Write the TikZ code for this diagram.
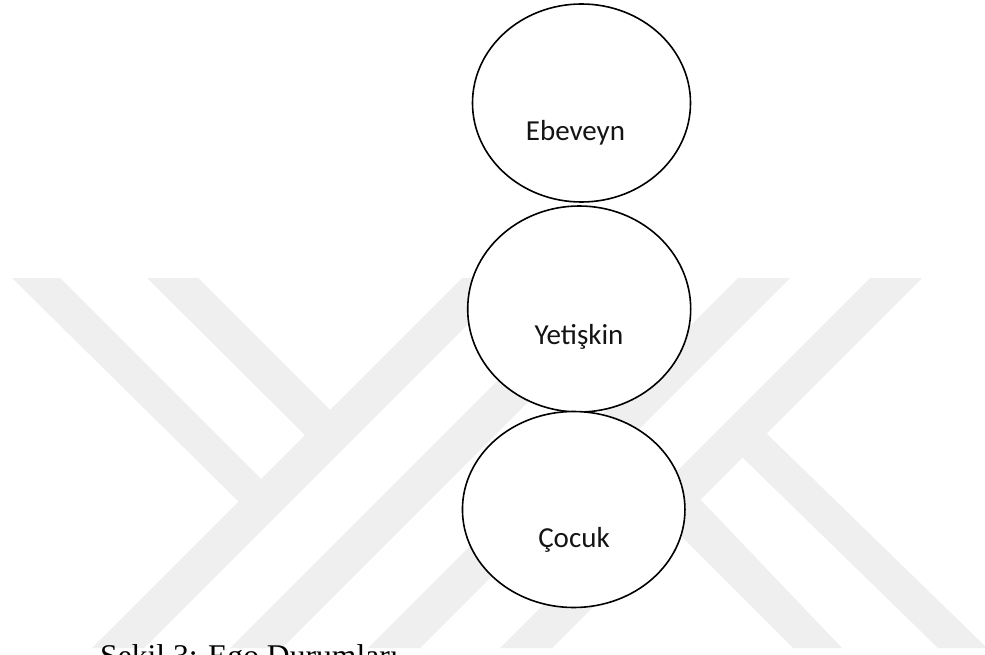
\documentclass[tikz,border=0pt]{standalone}
\usepackage{fontspec}
\setmainfont{Carlito}
\newfontfamily\capfont{Liberation Serif}
\usetikzlibrary{shapes.geometric}
\definecolor{wmgray}{HTML}{EFEFEF}
\tikzset{
  x=1pt,y=-1pt,
  band/.style={fill=wmgray,draw=none},
  bubble/.style={ellipse,draw=black,fill=white,line width=1.6pt,inner sep=0pt,outer sep=0pt},
  lbl/.style={anchor=base,inner sep=0pt,text=black!92,font=\fontsize{29}{32}\selectfont},
  captext/.style={anchor=base west,inner sep=0pt,text=black,font=\capfont\fontsize{31.6}{34}\selectfont}
}
\begin{document}
\begin{tikzpicture}
\useasboundingbox (0,0) rectangle (985,655);
\clip (0,0) rectangle (985,655);
\fill[white] (0,0) rectangle (985,655);
% watermark: bands rising to the right
\fill[band] (92,648) -- (462,278) -- (514,278) -- (144,648) -- cycle;
\fill[band] (230,648) -- (600,278) -- (652,278) -- (282,648) -- cycle;
\fill[band] (368,648) -- (738,278) -- (790,278) -- (420,648) -- cycle;
\fill[band] (500,648) -- (870,278) -- (922,278) -- (552,648) -- cycle;
% watermark: bands falling to the right
\fill[band] (12,278) -- (60,278) -- (270,488) -- (240,503) -- cycle;
\fill[band] (147,278) -- (198,278) -- (340,420) -- (307,437) -- cycle;
\fill[band] (606,461) -- (698,497) -- (842,648) -- (793,648) -- cycle;
\fill[band] (742,457) -- (765,432) -- (987,648) -- (938,648) -- cycle;
% ellipses
\node[bubble,minimum width=218pt,minimum height=198pt] (ebeveyn) at (581.5,103) {};
\node[bubble,minimum width=223pt,minimum height=206pt] (yetiskin) at (579.2,309) {};
\node[bubble,minimum width=222.5pt,minimum height=196pt] (cocuk) at (573.7,509.5) {};
% labels
\node[lbl] (tebeveyn) at (575.5,141) {Ebeveyn};
\node[lbl] (tyetiskin) at (579,344) {Yetişkin};
\node[lbl] (tcocuk) at (574,547) {Çocuk};
\node[captext] (caption) at (100,666) {Şekil 3: Ego Durumları};
\end{tikzpicture}
\end{document}
